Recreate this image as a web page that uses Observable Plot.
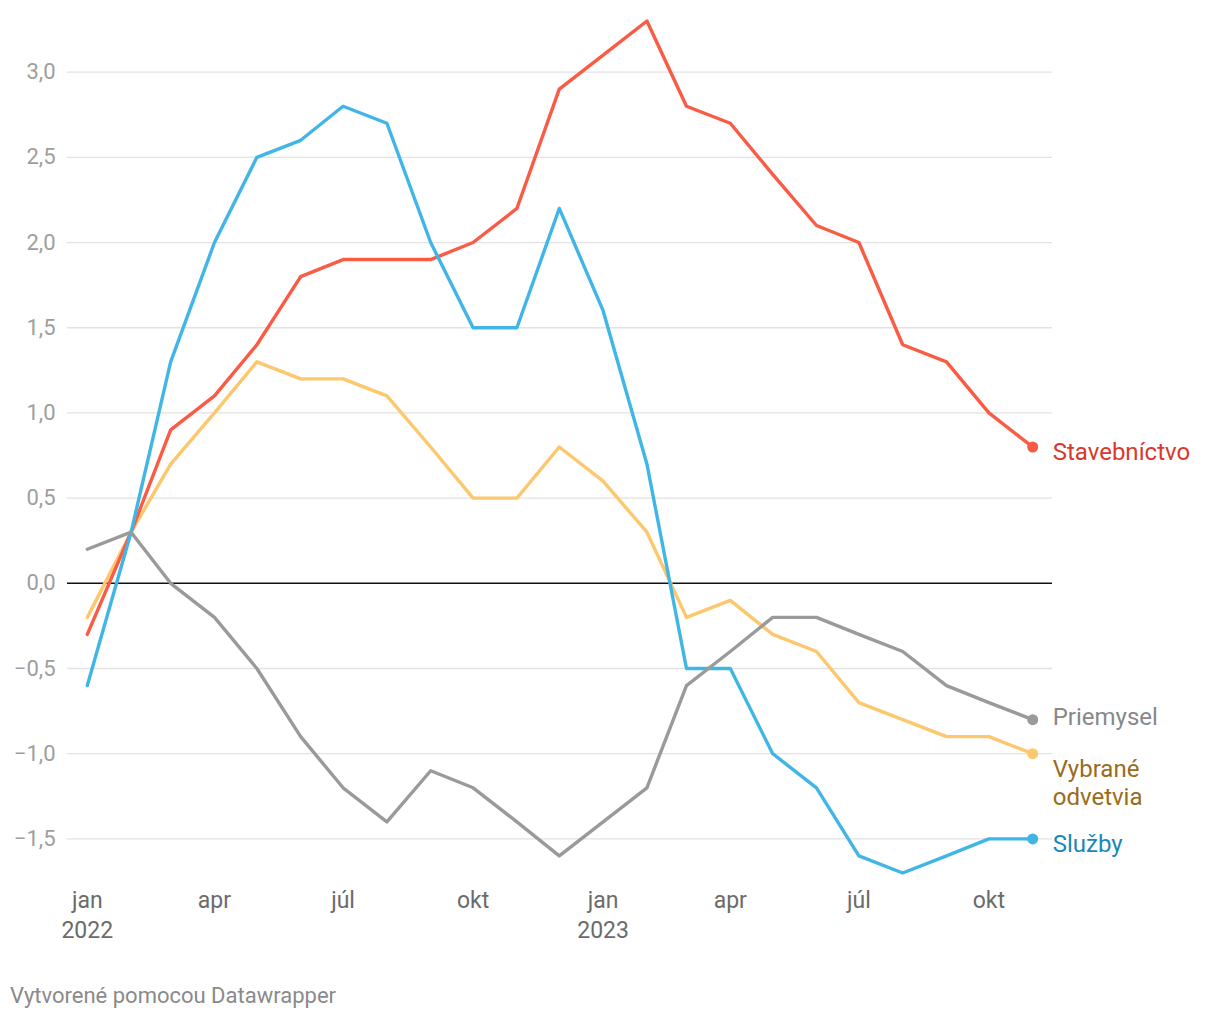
<!DOCTYPE html>
<html>
<head>
<meta charset="utf-8">
<script src="https://cdn.jsdelivr.net/npm/d3@7"></script>
<script src="https://cdn.jsdelivr.net/npm/@observablehq/plot@0.6"></script>
<style>
  html, body { margin: 0; padding: 0; background: #fff; }
  body { width: 1220px; height: 1020px; position: relative; font-family: Roboto, "Noto Sans", sans-serif; }
  #chart { position: absolute; left: 0; top: 0; }
  #footer { position: absolute; left: 10px; top: 983px; font-size: 22px; line-height: 26px; color: #8a8a8a; font-family: Roboto, sans-serif; }
</style>
</head>
<body>
<div id="chart"></div>
<div id="footer">Vytvorené pomocou Datawrapper</div>
<script>
// Months: jan 2022 … nov 2023
const monthStarts = ["2022-01","2022-02","2022-03","2022-04","2022-05","2022-06","2022-07","2022-08","2022-09","2022-10","2022-11","2022-12",
                     "2023-01","2023-02","2023-03","2023-04","2023-05","2023-06","2023-07","2023-08","2023-09","2023-10","2023-11"];

const seriesNames = ["Vybrané odvetvia", "Stavebníctvo", "Služby", "Priemysel"];
const labelTexts = ["Vybrané\nodvetvia", "Stavebníctvo", "Služby", "Priemysel"];

const vybraneOdvetvia = [-0.2, 0.3, 0.7, 1.0, 1.3, 1.2, 1.2, 1.1, 0.8, 0.5, 0.5, 0.8,
                         0.6, 0.3, -0.2, -0.1, -0.3, -0.4, -0.7, -0.8, -0.9, -0.9, -1.0];
const stavebnictvo    = [-0.3, 0.3, 0.9, 1.1, 1.4, 1.8, 1.9, 1.9, 1.9, 2.0, 2.2, 2.9,
                         3.1, 3.3, 2.8, 2.7, 2.4, 2.1, 2.0, 1.4, 1.3, 1.0, 0.8];
const sluzby          = [-0.6, 0.3, 1.3, 2.0, 2.5, 2.6, 2.8, 2.7, 2.0, 1.5, 1.5, 2.2,
                         1.6, 0.7, -0.5, -0.5, -1.0, -1.2, -1.6, -1.7, -1.6, -1.5, -1.5];
const priemysel       = [0.2, 0.3, 0.0, -0.2, -0.5, -0.9, -1.2, -1.4, -1.1, -1.2, -1.4, -1.6,
                         -1.4, -1.2, -0.6, -0.4, -0.2, -0.2, -0.3, -0.4, -0.6, -0.7, -0.8];

const yTicks = [-1.5, -1.0, -0.5, 0, 0.5, 1.0, 1.5, 2.0, 2.5, 3.0];
const xTickMonths = ["2022-01","2022-04","2022-07","2022-10","2023-01","2023-04","2023-07","2023-10"];
const xTickLabels = ["jan\n2022","apr","júl","okt","jan\n2023","apr","júl","okt"];

// styles
const lineColors = ["#fdc76d", "#fa5b45", "#41b6e6", "#9a9a9a"];
const textColors = ["#9a6b1a", "#d8392b", "#1a87b8", "#888888"];
const labelDy = [28, 4, 4, -4];

const allValues = [vybraneOdvetvia, stavebnictvo, sluzby, priemysel];
const parseMonth = d3.utcParse("%Y-%m");
const dates = monthStarts.map(parseMonth);

const tickDates = xTickMonths.map(parseMonth);
const tickLabelMap = new Map(tickDates.map((d, i) => [+d, xTickLabels[i]]));

const fmtY = v => (v < 0 ? "\u2212" : "") + Math.abs(v).toFixed(1).replace(".", ",");

const marks = [
  Plot.ruleY(yTicks.filter(v => v !== 0), {stroke: "#e2e2e2", strokeWidth: 1.3}),
  Plot.ruleY([0], {stroke: "#111", strokeWidth: 1.6}),
  Plot.axisY({ticks: yTicks, tickSize: 0, tickPadding: 12, tickFormat: fmtY, fontSize: 22, color: "#9e9e9e", label: null}),
  Plot.axisX({ticks: tickDates, tickSize: 0, tickPadding: 5, tickFormat: d => tickLabelMap.get(+d), fontSize: 23, color: "#6b6b6b", lineHeight: 1.3, label: null})
];

allValues.forEach((vals, i) => {
  const data = dates.map((d, j) => ({date: d, value: vals[j]}));
  marks.push(Plot.line(data, {x: "date", y: "value", stroke: lineColors[i], strokeWidth: 3.4, strokeLinejoin: "round", strokeLinecap: "round"}));
});
allValues.forEach((vals, i) => {
  const last = [{date: dates[dates.length - 1], value: vals[vals.length - 1], label: labelTexts[i]}];
  marks.push(Plot.dot(last, {x: "date", y: "value", r: 5.5, fill: lineColors[i], stroke: null}));
  marks.push(Plot.text(last, {x: "date", y: "value", text: "label", dx: 20, dy: labelDy[i], textAnchor: "start", lineAnchor: "middle", fill: textColors[i], fontSize: 24, lineHeight: 1.17}));
});

const chart = Plot.plot({
  width: 1220,
  height: 950,
  marginLeft: 67,
  marginRight: 168,
  marginTop: 12,
  marginBottom: 69,
  style: {fontFamily: "Roboto, sans-serif", background: "#fff", overflow: "visible"},
  x: {type: "utc", domain: [new Date(Date.UTC(2021, 11, 18)), new Date(Date.UTC(2023, 10, 15))]},
  y: {domain: [-1.75, 3.35]},
  marks
});
document.getElementById("chart").appendChild(chart);
</script>
</body>
</html>
